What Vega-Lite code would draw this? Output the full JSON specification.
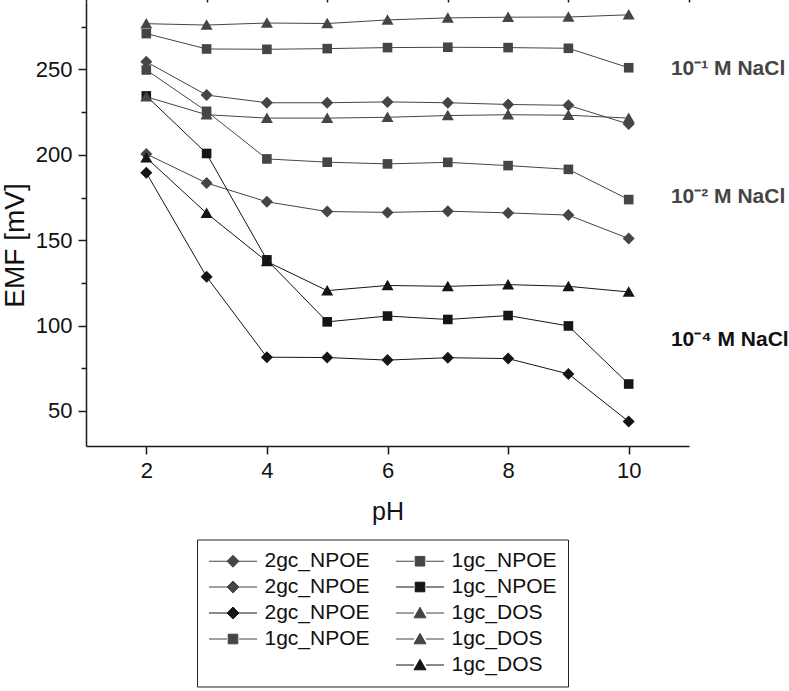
{
  "$schema": "https://vega.github.io/schema/vega-lite/v6.json",
  "width": 603,
  "height": 444,
  "autosize": {"type": "none"},
  "padding": {"left": 86, "top": 2, "right": 100, "bottom": 245},
  "background": "white",
  "config": {
    "view": {"stroke": null},
    "font": "Liberation Sans",
    "axis": {
      "grid": false,
      "domainColor": "#1a1a1a",
      "domainWidth": 1.5,
      "tickColor": "#1a1a1a",
      "tickWidth": 1.5,
      "labelFont": "Liberation Sans",
      "labelFontSize": 22,
      "labelColor": "#111",
      "titleFont": "Liberation Sans",
      "titleFontWeight": "normal",
      "titleColor": "#111"
    }
  },
  "datasets": {
    "series": [
      {"s": "a|2gc_NPOE", "pH": 2, "emf": 254.5}, {"s": "a|2gc_NPOE", "pH": 3, "emf": 235}, {"s": "a|2gc_NPOE", "pH": 4, "emf": 230.5}, {"s": "a|2gc_NPOE", "pH": 5, "emf": 230.5}, {"s": "a|2gc_NPOE", "pH": 6, "emf": 231}, {"s": "a|2gc_NPOE", "pH": 7, "emf": 230.5}, {"s": "a|2gc_NPOE", "pH": 8, "emf": 229.5}, {"s": "a|2gc_NPOE", "pH": 9, "emf": 229}, {"s": "a|2gc_NPOE", "pH": 10, "emf": 218},
      {"s": "b|2gc_NPOE", "pH": 2, "emf": 200.5}, {"s": "b|2gc_NPOE", "pH": 3, "emf": 183.5}, {"s": "b|2gc_NPOE", "pH": 4, "emf": 172.5}, {"s": "b|2gc_NPOE", "pH": 5, "emf": 166.8}, {"s": "b|2gc_NPOE", "pH": 6, "emf": 166.3}, {"s": "b|2gc_NPOE", "pH": 7, "emf": 167}, {"s": "b|2gc_NPOE", "pH": 8, "emf": 166}, {"s": "b|2gc_NPOE", "pH": 9, "emf": 164.7}, {"s": "b|2gc_NPOE", "pH": 10, "emf": 151},
      {"s": "c|2gc_NPOE", "pH": 2, "emf": 189.5}, {"s": "c|2gc_NPOE", "pH": 3, "emf": 128.6}, {"s": "c|2gc_NPOE", "pH": 4, "emf": 81.5}, {"s": "c|2gc_NPOE", "pH": 5, "emf": 81.3}, {"s": "c|2gc_NPOE", "pH": 6, "emf": 79.8}, {"s": "c|2gc_NPOE", "pH": 7, "emf": 81.2}, {"s": "c|2gc_NPOE", "pH": 8, "emf": 80.7}, {"s": "c|2gc_NPOE", "pH": 9, "emf": 71.7}, {"s": "c|2gc_NPOE", "pH": 10, "emf": 43.8},
      {"s": "d|1gc_NPOE", "pH": 2, "emf": 271}, {"s": "d|1gc_NPOE", "pH": 3, "emf": 262}, {"s": "d|1gc_NPOE", "pH": 4, "emf": 261.8}, {"s": "d|1gc_NPOE", "pH": 5, "emf": 262.2}, {"s": "d|1gc_NPOE", "pH": 6, "emf": 262.8}, {"s": "d|1gc_NPOE", "pH": 7, "emf": 263}, {"s": "d|1gc_NPOE", "pH": 8, "emf": 262.8}, {"s": "d|1gc_NPOE", "pH": 9, "emf": 262.4}, {"s": "d|1gc_NPOE", "pH": 10, "emf": 251},
      {"s": "e|1gc_NPOE", "pH": 2, "emf": 249.7}, {"s": "e|1gc_NPOE", "pH": 3, "emf": 225.5}, {"s": "e|1gc_NPOE", "pH": 4, "emf": 197.6}, {"s": "e|1gc_NPOE", "pH": 5, "emf": 195.7}, {"s": "e|1gc_NPOE", "pH": 6, "emf": 194.7}, {"s": "e|1gc_NPOE", "pH": 7, "emf": 195.6}, {"s": "e|1gc_NPOE", "pH": 8, "emf": 193.7}, {"s": "e|1gc_NPOE", "pH": 9, "emf": 191.5}, {"s": "e|1gc_NPOE", "pH": 10, "emf": 173.8},
      {"s": "f|1gc_NPOE", "pH": 2, "emf": 234.5}, {"s": "f|1gc_NPOE", "pH": 3, "emf": 200.8}, {"s": "f|1gc_NPOE", "pH": 4, "emf": 138.5}, {"s": "f|1gc_NPOE", "pH": 5, "emf": 102.2}, {"s": "f|1gc_NPOE", "pH": 6, "emf": 105.6}, {"s": "f|1gc_NPOE", "pH": 7, "emf": 103.6}, {"s": "f|1gc_NPOE", "pH": 8, "emf": 105.9}, {"s": "f|1gc_NPOE", "pH": 9, "emf": 99.8}, {"s": "f|1gc_NPOE", "pH": 10, "emf": 65.8},
      {"s": "g|1gc_DOS", "pH": 2, "emf": 276.8}, {"s": "g|1gc_DOS", "pH": 3, "emf": 276}, {"s": "g|1gc_DOS", "pH": 4, "emf": 277.2}, {"s": "g|1gc_DOS", "pH": 5, "emf": 276.9}, {"s": "g|1gc_DOS", "pH": 6, "emf": 279}, {"s": "g|1gc_DOS", "pH": 7, "emf": 280.2}, {"s": "g|1gc_DOS", "pH": 8, "emf": 280.6}, {"s": "g|1gc_DOS", "pH": 9, "emf": 280.7}, {"s": "g|1gc_DOS", "pH": 10, "emf": 282},
      {"s": "h|1gc_DOS", "pH": 2, "emf": 234}, {"s": "h|1gc_DOS", "pH": 3, "emf": 223.5}, {"s": "h|1gc_DOS", "pH": 4, "emf": 221.5}, {"s": "h|1gc_DOS", "pH": 5, "emf": 221.5}, {"s": "h|1gc_DOS", "pH": 6, "emf": 222}, {"s": "h|1gc_DOS", "pH": 7, "emf": 223}, {"s": "h|1gc_DOS", "pH": 8, "emf": 223.5}, {"s": "h|1gc_DOS", "pH": 9, "emf": 223.2}, {"s": "h|1gc_DOS", "pH": 10, "emf": 221.5},
      {"s": "i|1gc_DOS", "pH": 2, "emf": 198.3}, {"s": "i|1gc_DOS", "pH": 3, "emf": 165.8}, {"s": "i|1gc_DOS", "pH": 4, "emf": 137.5}, {"s": "i|1gc_DOS", "pH": 5, "emf": 120.5}, {"s": "i|1gc_DOS", "pH": 6, "emf": 123.5}, {"s": "i|1gc_DOS", "pH": 7, "emf": 123}, {"s": "i|1gc_DOS", "pH": 8, "emf": 124}, {"s": "i|1gc_DOS", "pH": 9, "emf": 123}, {"s": "i|1gc_DOS", "pH": 10, "emf": 119.7}
    ],
    "notes": [
      {"pH": 10.7, "emf": 250.5, "label": "10⁻¹ M NaCl", "conc": "1e-1"},
      {"pH": 10.7, "emf": 175.4, "label": "10⁻² M NaCl", "conc": "1e-2"},
      {"pH": 10.7, "emf": 91.5, "label": "10⁻⁴ M NaCl", "conc": "1e-4"}
    ]
  },
  "layer": [
    {
      "data": {"name": "series"},
      "mark": {"type": "line", "strokeWidth": 1},
      "encoding": {
        "x": {"field": "pH", "type": "quantitative", "scale": {"domain": [1, 11], "nice": false, "zero": false},
          "axis": {"values": [2, 4, 6, 8, 10], "tickSize": 8, "labelPadding": 6, "title": "pH", "titleFontSize": 25, "titlePadding": 18}},
        "y": {"field": "emf", "type": "quantitative", "scale": {"domain": [29.5, 289.5], "nice": false, "zero": false},
          "axis": {"orient": "left", "values": [50, 100, 150, 200, 250], "tickSize": 8, "labelPadding": 6, "title": "EMF [mV]", "titleFontSize": 28, "titlePadding": 6, "titleY": 243}},
        "color": {"field": "s", "type": "nominal",
          "scale": {
            "domain": ["a|2gc_NPOE", "b|2gc_NPOE", "c|2gc_NPOE", "d|1gc_NPOE", "z|", "e|1gc_NPOE", "f|1gc_NPOE", "g|1gc_DOS", "h|1gc_DOS", "i|1gc_DOS"],
            "range": ["#454545", "#454545", "#151515", "#454545", "transparent", "#454545", "#151515", "#454545", "#454545", "#151515"]
          },
          "legend": {
            "orient": "none", "legendX": 111, "legendY": 537.5, "title": null,
            "columns": 2, "columnPadding": 24, "rowPadding": 4,
            "padding": 11, "strokeColor": "#222",
            "labelFont": "Liberation Sans", "labelFontSize": 21, "labelColor": "#111", "labelLimit": 200,
            "labelExpr": "substring(datum.value, 2)",
            "symbolSize": 144, "symbolOffset": 14.5, "labelOffset": 21, "symbolStrokeWidth": 1,
            "encode": {
              "symbols": {
                "update": {
                  "shape": {"signal": "datum.value == 'z|' ? 'M0,0' : 'M-4,0H-1M1,0H4' + (indexof(datum.value, '2gc') >= 0 ? 'M0,-1L1,0L0,1L-1,0Z' : (indexof(datum.value, 'DOS') >= 0 ? 'M0,-0.95L1,0.8H-1Z' : 'M-0.8,-0.8H0.8V0.8H-0.8Z'))"},
                  "stroke": {"signal": "scale('color', datum.value)"},
                  "strokeWidth": {"value": 1},
                  "opacity": {"value": 1}
                }
              }
            }
          }
        }
      }
    },
    {
      "data": {"name": "series"},
      "mark": {"type": "point", "filled": true, "size": 144, "opacity": 1},
      "encoding": {
        "x": {"field": "pH", "type": "quantitative",
          "axis": {"values": [1, 3, 5, 7, 9, 11], "tickSize": 5, "labels": false, "domain": false, "title": null}},
        "y": {"field": "emf", "type": "quantitative",
          "axis": {"orient": "left", "values": [75, 125, 175, 225, 275], "tickSize": 5, "labels": false, "domain": false, "title": null}},
        "color": {"field": "s", "type": "nominal"},
        "shape": {"field": "s", "type": "nominal",
          "scale": {
            "domain": ["z|", "a|2gc_NPOE", "b|2gc_NPOE", "c|2gc_NPOE", "d|1gc_NPOE", "e|1gc_NPOE", "f|1gc_NPOE", "g|1gc_DOS", "h|1gc_DOS", "i|1gc_DOS"],
            "range": ["M0,0", "M0,-1L1,0L0,1L-1,0Z", "M0,-1L1,0L0,1L-1,0Z", "M0,-1L1,0L0,1L-1,0Z", "M-0.8,-0.8H0.8V0.8H-0.8Z", "M-0.8,-0.8H0.8V0.8H-0.8Z", "M-0.8,-0.8H0.8V0.8H-0.8Z", "M0,-0.95L1,0.8H-1Z", "M0,-0.95L1,0.8H-1Z", "M0,-0.95L1,0.8H-1Z"]
          },
          "legend": null}
      }
    },
    {
      "data": {"name": "notes"},
      "mark": {"type": "text", "align": "left", "baseline": "middle", "font": "Liberation Sans", "fontWeight": "bold", "fontSize": 21, "clip": false},
      "encoding": {
        "x": {"field": "pH", "type": "quantitative", "axis": null},
        "y": {"field": "emf", "type": "quantitative", "axis": null},
        "text": {"field": "label"},
        "color": {"condition": {"test": "datum.conc == '1e-4'", "value": "#111"}, "value": "#444"}
      }
    }
  ],
  "resolve": {"axis": {"x": "independent", "y": "independent"}}
}
